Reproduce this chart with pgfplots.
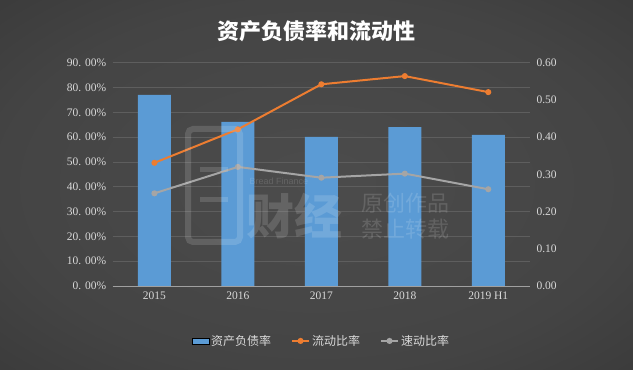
\documentclass[border=0pt]{standalone}
\usepackage{pgfplots}
\pgfplotsset{compat=1.18}
\usepackage{fontspec}
\setmainfont{Liberation Serif}
\newfontfamily\cjk{Noto Sans CJK SC}
\newfontfamily\lsans{Liberation Sans}
\definecolor{barblue}{HTML}{5B9BD5}
\definecolor{lorange}{HTML}{ED7D31}
\definecolor{lgray}{HTML}{A5A5A5}
\definecolor{gridc}{HTML}{5E5E5E}
\definecolor{axisc}{HTML}{A0A0A0}
\definecolor{ticklab}{HTML}{D9D9D9}
\pgfdeclareradialshading{bgshade}{\pgfpoint{0bp}{0bp}}{%
  color(0bp)=(rgb,255:red,76;green,76;blue,76);
  color(25bp)=(rgb,255:red,68;green,68;blue,68);
  color(45bp)=(rgb,255:red,52;green,52;blue,52);
  color(60bp)=(rgb,255:red,38;green,38;blue,38);
  color(75bp)=(rgb,255:red,34;green,34;blue,34)}
\begin{document}
\begin{tikzpicture}
\shade[shading=bgshade] (0,0) rectangle (633bp,370bp);
\node[text=white, font=\cjk\bfseries\fontsize{22bp}{26bp}\selectfont] at (316bp,339bp) {资产负债率和流动性};
\begin{axis}[
  at={(112.7bp,84bp)}, anchor=south west,
  scale only axis, width=417.3bp, height=223.3bp,
  xmin=-0.5, xmax=4.5, ymin=0, ymax=90,
  xtick={0,1,2,3,4}, xticklabels={2015,2016,2017,2018,2019 H1},
  ytick={0,10,...,90},
  yticklabels={0. 00\%,10. 00\%,20. 00\%,30. 00\%,40. 00\%,50. 00\%,60. 00\%,70. 00\%,80. 00\%,90. 00\%},
  axis x line*=bottom, axis y line*=left,
  y axis line style={draw=none},
  x axis line style={draw=axisc, line width=0.9pt, -},
  ymajorgrids, grid style={draw=gridc, line width=0.7pt},
  major tick length=0pt,
  ticklabel style={text=ticklab, font=\fontsize{11.5bp}{13bp}\selectfont},
  xticklabel style={yshift=-2bp},
  yticklabel style={xshift=-3bp},
]
\addplot[ybar, bar width=33bp, fill=barblue, draw=none] coordinates {
  (0,77.0) (1,66.1) (2,60.1) (3,64.0) (4,60.9)};
\end{axis}
\begin{axis}[
  at={(112.7bp,84bp)}, anchor=south west,
  scale only axis, width=417.3bp, height=223.3bp,
  xmin=-0.5, xmax=4.5, ymin=0, ymax=0.6,
  ytick={0,0.1,...,0.6},
  yticklabel style={/pgf/number format/.cd, fixed, fixed zerofill, precision=2, /tikz/.cd, xshift=3bp},
  axis y line*=right, axis x line=none,
  y axis line style={draw=none},
  major tick length=0pt,
  ticklabel style={text=ticklab, font=\fontsize{11.5bp}{13bp}\selectfont},
  /pgf/number format/assume math mode=true,
  legend style={at={(0.5,-0.246)}, anchor=center, draw=none, fill=none,
    text=ticklab, font=\cjk\fontsize{12bp}{14bp}\selectfont,
    /tikz/every even column/.append style={column sep=18bp}},
  legend columns=3,
  legend cell align=left,
]
\addlegendimage{area legend, fill=barblue, draw=none}
\addlegendentry{资产负债率}
\addplot[color=lorange, line width=2pt, mark=*, mark size=2pt] coordinates {
  (0,0.331) (1,0.421) (2,0.542) (3,0.564) (4,0.521)};
\addlegendentry{流动比率}
\addplot[color=lgray, line width=2pt, mark=*, mark size=2pt] coordinates {
  (0,0.249) (1,0.320) (2,0.291) (3,0.302) (4,0.260)};
\addlegendentry{速动比率}
\end{axis}
\begin{scope}[opacity=0.14, text=white, draw=white]
\node[font=\cjk\fontsize{22bp}{26bp}\selectfont, anchor=west] at (358bp,167bp) {原创作品};
\node[font=\cjk\fontsize{22bp}{26bp}\selectfont, anchor=west] at (358bp,141bp) {禁止转载};
\node[font=\cjk\bfseries\fontsize{48bp}{52bp}\selectfont, anchor=west] at (243bp,154bp) {财经};
\node[font=\lsans\fontsize{9bp}{10bp}\selectfont, anchor=west] at (246bp,189bp) {Bread Finance};
\draw[line width=6bp, rounded corners=5bp] (188bp,128bp) rectangle (240bp,241bp);
\draw[line width=5bp] (200bp,170bp) -- (228bp,170bp);
\draw[line width=5bp] (200bp,200bp) -- (228bp,200bp);
\end{scope}
\pgfresetboundingbox
\path (0,0) rectangle (633bp,370bp);
\end{tikzpicture}
\end{document}
